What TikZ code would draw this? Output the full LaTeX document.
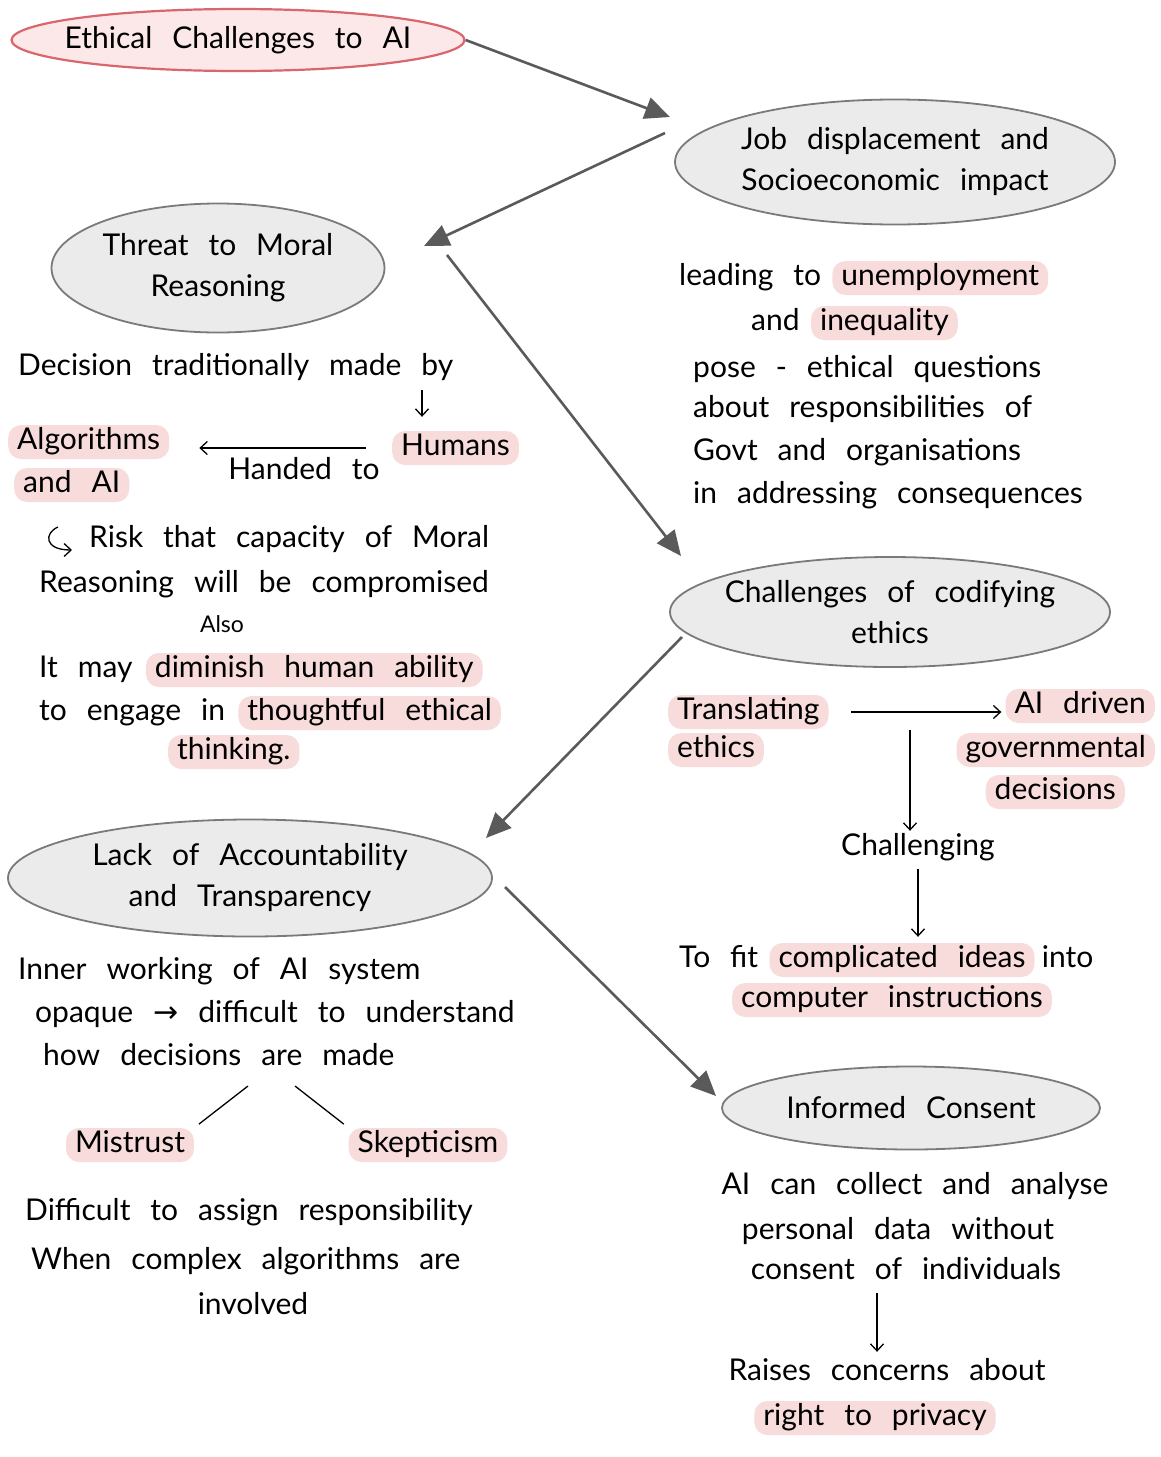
\documentclass[tikz,border=0pt]{standalone}
\usepackage{fontspec}
\setmainfont{Lato}[WordSpace=2.6]
\newfontfamily\symfont{DejaVu Sans}
\usetikzlibrary{arrows.meta,shapes.geometric}

\definecolor{hlpink}{HTML}{F8DBDB}
\definecolor{rootfill}{HTML}{FCE8E8}
\definecolor{rootdraw}{HTML}{D9666C}
\definecolor{bubfill}{HTML}{EBEBEB}
\definecolor{bubdraw}{HTML}{7A7A7A}
\definecolor{conn}{HTML}{5A5A5A}

\tikzset{
  every node/.style={font=\fontsize{30}{40}\selectfont},
  txt/.style={inner xsep=3pt, inner ysep=3pt, text height=21pt, text depth=7pt},
  hl/.style={txt, fill=hlpink, rounded corners=13pt, inner xsep=9pt},
  bubtext/.style={align=center, font=\fontsize{30}{41}\selectfont},
  bubble/.style={ellipse, draw=bubdraw, fill=bubfill, line width=1.8pt, inner sep=0pt},
  root/.style={bubble, draw=rootdraw, fill=rootfill, line width=2.2pt},
  link/.style={draw=conn, line width=2.6pt, -{Triangle[length=25pt,width=22pt]}},
  pen/.style={draw=black, line width=1.3pt, -{Straight Barb[length=7pt,width=13pt]}},
  stroke/.style={draw=black, line width=1.3pt},
}

\begin{document}
\begin{tikzpicture}[x=1pt, y=-1pt]
\useasboundingbox[fill=white] (0,0) rectangle (1160,1457);

% ---- main topics (size fixed, text set as a centred label) ----
\node[root, minimum width=453pt, minimum height=62pt,
  label={[bubtext]center:Ethical Challenges to AI}] (eth) at (238,40) {};
\node[bubble, minimum width=440pt, minimum height=125pt,
  label={[bubtext]center:Job displacement and\\Socioeconomic impact}] (job) at (895,162) {};
\node[bubble, minimum width=333pt, minimum height=129pt,
  label={[bubtext]center:Threat to Moral\\Reasoning}] (moral) at (218,268) {};
\node[bubble, minimum width=440pt, minimum height=110pt,
  label={[bubtext]center:Challenges of codifying\\ethics}] (cod) at (890,612) {};
\node[bubble, minimum width=484pt, minimum height=117pt,
  label={[bubtext]center:Lack of Accountability\\and Transparency}] (acc) at (250,878) {};
\node[bubble, minimum width=378pt, minimum height=83pt,
  label={[bubtext]center:Informed Consent}] (inf) at (911,1108) {};

% ---- connectors between topics ----
\coordinate (e1) at (670,117);
\coordinate (s2) at (665,133);  \coordinate (e2) at (424,246);
\coordinate (s3) at (447,255);  \coordinate (e3) at (681,556);
\coordinate (s4) at (682,637);  \coordinate (e4) at (486,838);
\coordinate (s5) at (505,887);  \coordinate (e5) at (716,1096);
\draw[link] (eth.east) -- (e1);
\draw[link] (s2) -- (e2);
\draw[link] (s3) -- (e3);
\draw[link] (s4) -- (e4);
\draw[link] (s5) -- (e5);

% ---- job displacement ----
\node[txt, anchor=west] (j1a) at (676,278) {leading to};
\node[hl, anchor=west] (j1b) at ([xshift=8pt]j1a.east) {unemployment};
\node[txt, anchor=west] (j2a) at (748,323) {and};
\node[hl, anchor=west] (j2b) at ([xshift=8pt]j2a.east) {inequality};
\node[txt, anchor=west] (j3) at (690,370) {pose - ethical questions};
\node[txt, anchor=west] (j4) at (690,410) {about responsibilities of};
\node[txt, anchor=west] (j5) at (690,453) {Govt and organisations};
\node[txt, anchor=west] (j6) at (690,496) {in addressing consequences};

% ---- moral reasoning ----
\node[txt, anchor=west] (t1) at (15,368) {Decision traditionally made by};
\node[hl, anchor=west] (alg) at (8,442) {Algorithms};
\node[hl, anchor=west] (andai) at (14,485) {and AI};
\node[hl, anchor=west] (hum) at (392,448) {Humans};
\node[txt] (hand) at (304,472) {Handed to};
\coordinate (byarr) at (422,390);
\draw[pen, shorten >=14pt] (byarr) -- (byarr |- hum.north);
\draw[pen, shorten <=26pt, shorten >=30pt] (hum.west) -- (hum.west -| alg.east);

\node[txt, anchor=west] (r1) at (86,540) {Risk that capacity of Moral};
\coordinate (hook) at (58,527);
\draw[pen] (hook) .. controls (44,533) and (44,550) .. (72,550);
\node[txt, anchor=west] (r2) at (36,585) {Reasoning will be compromised};
\node[txt, font=\fontsize{23}{26}\selectfont] (also) at (222,625) {Also};
\node[txt, anchor=west] (m1a) at (36,670) {It may};
\node[hl, anchor=west] (m1b) at ([xshift=10pt]m1a.east) {diminish human ability};
\node[txt, anchor=west] (m2a) at (36,713) {to engage in};
\node[hl, anchor=west] (m2b) at ([xshift=10pt]m2a.east) {thoughtful ethical};
\node[hl, anchor=west] (m3) at (168,752) {thinking.};

% ---- codifying ethics ----
\node[hl, anchor=west] (tr1) at (668,712) {Translating};
\node[hl, anchor=west] (tr2) at (668,750) {ethics};
\node[hl, anchor=east] (ad1) at (1155,706) {AI driven};
\node[hl, anchor=east] (ad2) at (1155,750) {governmental};
\node[hl, anchor=east] (ad3) at (1125,792) {decisions};
\draw[pen, shorten <=22pt, shorten >=4pt] (tr1.east) -- (tr1.east -| ad1.west);
\node[txt] (chal) at (918,848) {Challenging};
\coordinate (vtop) at (910,730);
\draw[pen] (vtop) -- (vtop |- chal.north);
\node[txt, anchor=west] (f1a) at (676,960) {To fit};
\node[hl, anchor=west] (f1b) at ([xshift=8pt]f1a.east) {complicated ideas};
\node[txt, anchor=west] (f1c) at ([xshift=4pt]f1b.east) {into};
\node[hl] (f2) at (892,1000) {computer instructions};
\draw[pen, shorten <=4pt, shorten >=6pt] (chal.south) -- (chal.south |- f1b.north);

% ---- accountability ----
\node[txt, anchor=west] (a1) at (15,972) {Inner working of AI system};
\node[txt, anchor=west] (a2) at (32,1015) {opaque {\symfont →} difficult to understand};
\node[txt, anchor=west] (a3) at (40,1058) {how decisions are made};
\node[hl] (mis) at (130,1145) {Mistrust};
\node[hl] (skep) at (428,1145) {Skepticism};
\coordinate (sp1) at (248,1086);
\coordinate (sp2) at (295,1086);
\draw[stroke, shorten >=6pt] (sp1) -- (mis.north east);
\draw[stroke, shorten >=6pt] (sp2) -- (skep.north west);
\node[txt, anchor=west] (d1) at (22,1213) {Difficult to assign responsibility};
\node[txt, anchor=west] (d2) at (28,1262) {When complex algorithms are};
\node[txt] (d3) at (253,1307) {involved};

% ---- informed consent ----
\node[txt] (c1) at (915,1187) {AI can collect and analyse};
\node[txt] (c2) at (898,1232) {personal data without};
\node[txt] (c3) at (906,1272) {consent of individuals};
\node[txt] (rc1) at (887,1373) {Raises concerns about};
\node[hl] (rc2) at (875,1418) {right to privacy};
\coordinate (ia) at (877,1293);
\draw[pen, shorten >=4pt] (ia) -- (ia |- rc1.north);
\end{tikzpicture}
\end{document}
